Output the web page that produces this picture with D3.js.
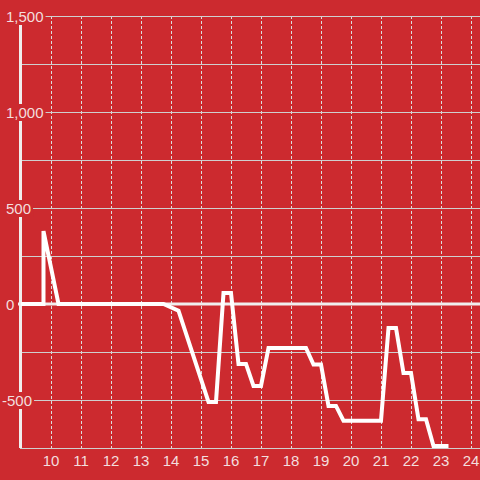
<!DOCTYPE html>
<html>
<head>
<meta charset="utf-8">
<script src="https://cdn.jsdelivr.net/npm/d3@7"></script>
<style>
  html, body { margin: 0; padding: 0; background: #cc2a2f; }
  svg { display: block; }
</style>
</head>
<body>
<svg width="480" height="480"></svg>
<script>
    // time of day (hours) and value
    const hours = [9.0, 9.75, 9.75, 10.25, 13.75, 14.25, 15.25, 15.5, 15.75, 16.0, 16.25, 16.5,
                   16.75, 17.0, 17.25, 18.5, 18.75, 19.0, 19.25, 19.5, 19.75, 21.0, 21.25, 21.5,
                   21.75, 22.0, 22.25, 22.5, 22.75, 23.25];
    const values = [0, 0, 380, 0, 0, -35, -510, -510, 57, 57, -312, -312,
                    -427, -427, -229, -229, -315, -315, -531, -531, -608, -608, -125, -125,
                    -360, -360, -600, -600, -740, -740];
    const xTicks = [10, 11, 12, 13, 14, 15, 16, 17, 18, 19, 20, 21, 22, 23, 24];
    const yLabelTicks = [-500, 0, 500, 1000, 1500];
    const yGridTicks = [-750, -500, -250, 0, 250, 500, 750, 1000, 1250, 1500];

    const data = hours.map((h, i) => ({ t: h, v: values[i] }));

    const svg = d3.select("svg");
    const plotLeft = 20, plotRight = 480, plotTop = 16, plotBottom = 448;
    const labelColor = "#f3dede";
    const bg = "#cc2a2f";

    const x = d3.scaleLinear()
      .domain([8.967, 24.3])
      .range([plotLeft, plotRight]);

    const y = d3.scaleLinear()
      .domain([-750, 1500])
      .range([plotBottom, plotTop]);

    svg.append("rect")
      .attr("width", 480)
      .attr("height", 480)
      .attr("fill", bg);

    // vertical dashed grid
    svg.append("g")
      .selectAll("line")
      .data(xTicks)
      .join("line")
        .attr("x1", d => Math.round(x(d)) + 0.5)
        .attr("x2", d => Math.round(x(d)) + 0.5)
        .attr("y1", plotTop)
        .attr("y2", plotBottom)
        .attr("stroke", "#dcdcdc")
        .attr("stroke-width", 1)
        .attr("stroke-dasharray", "3,2");

    // horizontal grid
    svg.append("g")
      .selectAll("line")
      .data(yGridTicks.filter(d => d !== 0))
      .join("line")
        .attr("x1", plotLeft)
        .attr("x2", plotRight)
        .attr("y1", d => Math.round(y(d)) + 0.5)
        .attr("y2", d => Math.round(y(d)) + 0.5)
        .attr("stroke", "#cfcfcf")
        .attr("stroke-width", 1);

    // zero line
    svg.append("line")
      .attr("x1", plotLeft - 2)
      .attr("x2", plotRight)
      .attr("y1", y(0))
      .attr("y2", y(0))
      .attr("stroke", "#f0eeee")
      .attr("stroke-width", 3);

    // left axis line
    svg.append("line")
      .attr("x1", plotLeft + 0.5)
      .attr("x2", plotLeft + 0.5)
      .attr("y1", plotTop)
      .attr("y2", plotBottom)
      .attr("stroke", "#f0eeee")
      .attr("stroke-width", 3);

    // y labels with background
    const fmt = d3.format(",");
    const yLab = svg.append("g")
      .style("font-family", "'Liberation Sans', Arial, sans-serif")
      .style("font-size", "15px");

    yLabelTicks.forEach(d => {
      const g = yLab.append("g");
      const t = g.append("text")
        .attr("x", d < 0 ? 2 : 6)
        .attr("y", y(d) + 6)
        .attr("fill", labelColor)
        .text(fmt(d).replace("−", "-"));
      const b = t.node().getBBox();
      g.insert("rect", "text")
        .attr("x", 0)
        .attr("y", b.y)
        .attr("width", b.x + b.width + 2)
        .attr("height", b.height)
        .attr("fill", bg);
    });

    // x labels
    svg.append("g")
      .style("font-family", "'Liberation Sans', Arial, sans-serif")
      .style("font-size", "15px")
      .selectAll("text")
      .data(xTicks)
      .join("text")
        .attr("x", d => x(d))
        .attr("y", 466)
        .attr("text-anchor", "middle")
        .attr("fill", labelColor)
        .text(d => d);

    // data line
    const line = d3.line()
      .x(d => x(d.t))
      .y(d => y(d.v));

    svg.append("path")
      .datum(data)
      .attr("d", line)
      .attr("fill", "none")
      .attr("stroke", "#ffffff")
      .attr("stroke-width", 4)
      .attr("stroke-linejoin", "miter");
</script>
</body>
</html>
